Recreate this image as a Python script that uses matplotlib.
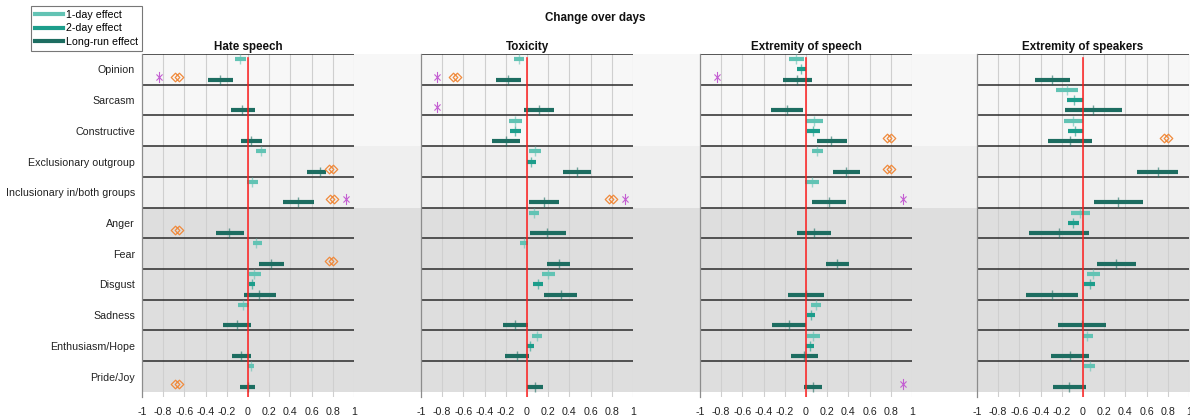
import numpy as np
import matplotlib
matplotlib.use("Agg")
import matplotlib.pyplot as plt
from matplotlib.lines import Line2D
from matplotlib.path import Path

plt.rcParams['font.family'] = ['Liberation Sans', 'DejaVu Sans']

# ---------------- data ----------------
categories = ["Opinion", "Sarcasm", "Constructive", "Exclusionary outgroup",
              "Inclusionary in/both groups", "Anger", "Fear", "Disgust",
              "Sadness", "Enthusiasm/Hope", "Pride/Joy"]
outcomes = ["Hate speech", "Toxicity", "Extremity of speech", "Extremity of speakers"]
horizons = ["1-day effect", "2-day effect", "Long-run effect"]
xticks = [-1, -0.8, -0.6, -0.4, -0.2, 0, 0.2, 0.4, 0.6, 0.8, 1]
xticklabels = ["-1", "-0.8", "-0.6", "-0.4", "-0.2", "0", "0.2", "0.4", "0.6", "0.8", "1"]

# (lower, estimate, upper) per category, None = not shown
hate_1day = [(-0.126, -0.08, -0.022), None, None, (0.075, 0.12, 0.17), (-0.01, 0.04, 0.09),
             None, (0.047, 0.08, 0.13), (0.01, 0.06, 0.12), (-0.09, -0.044, 0.006), None,
             (0.003, 0.025, 0.057)]
hate_2day = [None, None, None, None, None, None, None, (0.01, 0.04, 0.07), None, None, None]
hate_long = [(-0.38, -0.26, -0.145), (-0.164, -0.053, 0.07), (-0.066, 0.03, 0.135),
             (0.553, 0.676, 0.736), (0.33, 0.475, 0.62), (-0.305, -0.176, -0.04),
             (0.1, 0.22, 0.336), (-0.04, 0.107, 0.26), (-0.24, -0.107, 0.03),
             (-0.148, -0.063, 0.03), (-0.08, -0.003, 0.07)]
hate_diamonds = {"Opinion": -0.67, "Exclusionary outgroup": 0.786,
                 "Inclusionary in/both groups": 0.79, "Anger": -0.67, "Fear": 0.786,
                 "Pride/Joy": -0.67}
hate_stars = {"Opinion": -0.84, "Inclusionary in/both groups": 0.92}

tox_1day = [(-0.125, -0.076, -0.03), None, (-0.17, -0.11, -0.045), (0.015, 0.073, 0.13), None,
            (0.015, 0.063, 0.11), (-0.07, -0.03, 0.013), (0.145, 0.2, 0.26), None,
            (0.05, 0.095, 0.14), None]
tox_2day = [None, None, (-0.16, -0.11, -0.057), (0.003, 0.04, 0.082), None, None, None,
            (0.06, 0.1, 0.15), None, (0.003, 0.03, 0.063), None]
tox_long = [(-0.29, -0.18, -0.057), (-0.026, 0.117, 0.25), (-0.33, -0.2, -0.07),
            (0.34, 0.47, 0.6), (0.02, 0.16, 0.3), (0.025, 0.19, 0.37), (0.19, 0.3, 0.41),
            (0.165, 0.32, 0.47), (-0.23, -0.11, 0.013), (-0.21, -0.095, 0.02),
            (0.0, 0.076, 0.15)]
tox_diamonds = {"Opinion": -0.68, "Inclusionary in/both groups": 0.79}
tox_stars = {"Opinion": -0.85, "Sarcasm": -0.85, "Inclusionary in/both groups": 0.92}

speech_1day = [(-0.158, -0.095, -0.019), None, (0.003, 0.076, 0.16), (0.057, 0.104, 0.158),
               (-0.01, 0.054, 0.123), None, None, None, (0.05, 0.095, 0.14),
               (0.01, 0.07, 0.13), None]
speech_2day = [(-0.088, -0.044, 0.003), None, (0.006, 0.063, 0.13), None, None, None, None,
               None, (0.01, 0.048, 0.086), (0.003, 0.038, 0.08), None]
speech_long = [(-0.22, -0.082, 0.057), (-0.33, -0.177, -0.028), (0.1, 0.237, 0.385),
               (0.256, 0.38, 0.51), (0.06, 0.22, 0.373), (-0.089, 0.073, 0.235),
               (0.184, 0.29, 0.406), (-0.168, -0.003, 0.168), (-0.324, -0.165, 0.0),
               (-0.146, -0.02, 0.11), (-0.022, 0.063, 0.152)]
speech_diamonds = {"Constructive": 0.78, "Exclusionary outgroup": 0.78}
speech_stars = {"Opinion": -0.84, "Inclusionary in/both groups": 0.913, "Pride/Joy": 0.917}

speakers_1day = [None, (-0.252, -0.15, -0.05), (-0.18, -0.09, -0.003), None, None,
                 (-0.11, -0.025, 0.066), None, (0.038, 0.098, 0.164), None,
                 (0.0, 0.04, 0.09), (0.01, 0.063, 0.11)]
speakers_2day = [None, (-0.155, -0.082, -0.003), (-0.145, -0.073, 0.003), None, None,
                 (-0.145, -0.09, -0.04), None, (0.01, 0.063, 0.114), None, None, None]
speakers_long = [(-0.454, -0.29, -0.123), (-0.17, 0.095, 0.366), (-0.33, -0.123, 0.085),
                 (0.508, 0.703, 0.9), (0.104, 0.334, 0.565), (-0.508, -0.224, 0.054),
                 (0.136, 0.315, 0.5), (-0.54, -0.29, -0.047), (-0.24, -0.013, 0.215),
                 (-0.3, -0.123, 0.054), (-0.28, -0.13, 0.03)]
speakers_diamonds = {"Constructive": 0.785}
speakers_stars = {}

panel_series = [
    (hate_1day, hate_2day, hate_long, hate_diamonds, hate_stars),
    (tox_1day, tox_2day, tox_long, tox_diamonds, tox_stars),
    (speech_1day, speech_2day, speech_long, speech_diamonds, speech_stars),
    (speakers_1day, speakers_2day, speakers_long, speakers_diamonds, speakers_stars),
]

# ---------------- style ----------------
colors = ["#62c3b4", "#1c9d8b", "#1d6d61"]
row_offsets = [0.5, 1.5, 2.5]
marker_offset = 2.2
band_colors = ["#f7f7f7", "#efefef", "#dedede"]
band_edges = [(0, 9), (9, 15), (15, 33)]

W, H = 1190, 419
fig = plt.figure(figsize=(W / 100, H / 100), dpi=100)

ax_bottom = 1 - 397 / H
ax_top = 1 - 54 / H
ax_h = ax_top - ax_bottom
lefts_px = [142, 421, 700, 977]
width_px = 212
ylim = (33.5, 0)

# background bands spanning panels and gaps
bg = fig.add_axes([142 / W, ax_bottom, 1 - 142 / W, ax_h], zorder=0)
bg.set_ylim(*ylim)
bg.set_xlim(0, 1)
for (y0, y1), c in zip(band_edges, band_colors):
    bg.axhspan(y0, y1, color=c, lw=0)
bg.axis("off")

# heart-like overlapping double diamond marker
d = 0.55
verts, codes = [], []
for cx in (-0.25, 0.25):
    verts += [(cx, d), (cx + d, 0), (cx, -d), (cx - d, 0), (cx, d)]
    codes += [Path.MOVETO, Path.LINETO, Path.LINETO, Path.LINETO, Path.CLOSEPOLY]
dd_marker = Path(verts, codes)

# tall asterisk marker: vertical stroke crossed by an x
star_marker = Path([(0, -1), (0, 1), (-0.55, 0.55), (0.55, -0.55), (-0.55, -0.55), (0.55, 0.55)],
                   [Path.MOVETO, Path.LINETO, Path.MOVETO, Path.LINETO, Path.MOVETO, Path.LINETO])

n = len(categories)
for p, (title, series) in enumerate(zip(outcomes, panel_series)):
    ax = fig.add_axes([lefts_px[p] / W, ax_bottom, width_px / W, ax_h], zorder=2)
    ax.set_facecolor("none")
    ax.set_xlim(-1, 1)
    ax.set_ylim(*ylim)
    for s in ["top", "right", "bottom"]:
        ax.spines[s].set_visible(False)
    ax.spines["left"].set_color("#8c8c8c")
    ax.spines["left"].set_linewidth(0.9)
    ax.set_xticks(xticks)
    ax.set_xticklabels(xticklabels)
    ax.tick_params(axis="x", length=0, pad=7, labelsize=7.7, labelcolor="#222222")
    for xv in xticks[1:]:
        ax.axvline(xv, color="#cfcfcf", lw=0.8, zorder=1)
    for k in range(n):
        ax.axhline(3 * k, color="#2a2a2a", lw=1.1, zorder=2)
    if p == 0:
        ax.set_yticks([3 * k + 1.5 for k in range(n)])
        ax.set_yticklabels(categories)
        ax.tick_params(axis="y", length=0, pad=5, labelsize=7.7, labelcolor="#222222")
    else:
        ax.set_yticks([])
    ax.set_title(title, fontsize=8.4, fontweight="bold", pad=3, color="#111111")

    for h in range(3):
        data = series[h]
        for k, v in enumerate(data):
            if v is None:
                continue
            lo, est, hi = v
            y = 3 * k + row_offsets[h]
            ax.plot([lo, hi], [y, y], color=colors[h], lw=3.0, solid_capstyle="butt", zorder=4)
            ax.plot([est], [y], marker="|", markersize=6.5, mew=1.0, color=colors[h],
                    alpha=0.6, zorder=5)
    for cat, xv in series[3].items():
        k = categories.index(cat)
        ax.plot([xv], [3 * k + marker_offset], marker=dd_marker, markersize=9,
                mfc="none", mec="#f08a3c", mew=0.9, ls="none", zorder=6)
    for cat, xv in series[4].items():
        k = categories.index(cat)
        ax.plot([xv], [3 * k + marker_offset], marker=star_marker, markersize=8,
                mec="#c45fd2", mew=0.8, ls="none", zorder=6)
    ax.plot([0, 0], [0.4, 33.5], color="#ff1a1a", lw=1.2, zorder=7, alpha=0.9)

fig.text(0.5, 1 - 18 / H, "Change over days", ha="center", va="center",
         fontsize=8.4, fontweight="bold", color="#111111")

handles = [Line2D([0], [0], color=c, lw=3.0) for c in colors]
leg = fig.legend(handles, horizons, loc="upper left",
                 bbox_to_anchor=(31 / W, 1 - 6 / H), bbox_transform=fig.transFigure,
                 fontsize=7.7, frameon=True, fancybox=False, borderaxespad=0,
                 handlelength=2.6, handletextpad=0.3, labelspacing=0.35,
                 borderpad=0.35)
leg.get_frame().set_edgecolor("#555555")
leg.get_frame().set_linewidth(0.8)

fig.savefig("out.png", dpi=100)
